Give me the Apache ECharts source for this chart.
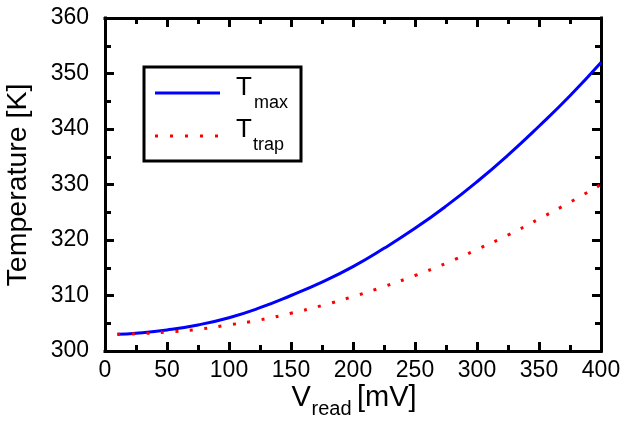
<!DOCTYPE html>
<html>
<head>
<meta charset="utf-8">
<script src="https://cdn.jsdelivr.net/npm/echarts@6/dist/echarts.min.js"></script>
<style>
html,body{margin:0;padding:0;background:#fff;}
#chart{width:624px;height:421px;}
</style>
</head>
<body>
<div id="chart"></div>
<script>
// Data
const vRead = [10, 25, 50, 75, 100, 125, 150, 175, 200, 225, 250, 275, 300, 325, 350, 375, 400];
const tMax  = [303.0, 303.2, 303.8, 304.7, 306.0, 307.8, 310.0, 312.4, 315.2, 318.5, 322.1, 326.1, 330.5, 335.3, 340.5, 346.0, 352.0];
const tTrap = [303.0, 303.1, 303.4, 303.9, 304.7, 305.6, 306.8, 308.2, 309.8, 311.6, 313.6, 315.8, 318.3, 320.9, 323.8, 326.8, 330.0];
const xTicks = [0, 50, 100, 150, 200, 250, 300, 350, 400];
const yTicks = [300, 310, 320, 330, 340, 350, 360];
const seriesNames = ['T_max', 'T_trap'];

const FONT = '"Liberation Sans", Arial, Helvetica, sans-serif';
const chart = echarts.init(document.getElementById('chart'), null, {renderer: 'canvas'});

const pair = (xs, ys) => xs.map((x, i) => [x, ys[i]]);

function axisCommon() {
  return {
    axisLine: {show: true, onZero: false, lineStyle: {color: '#000', width: 3, cap: 'square'}},
    axisTick: {show: true, inside: true, length: 9, lineStyle: {color: '#000', width: 3}},
    minorTick: {show: true, splitNumber: 2, length: 6, lineStyle: {color: '#000', width: 3}},
    splitLine: {show: false},
    minorSplitLine: {show: false}
  };
}

function txt(x, y, text, size, extra) {
  return Object.assign({type: 'text', x: x, y: y, z: 101,
    style: {text: text, fontSize: size, fontFamily: FONT, fill: '#000', align: 'left', verticalAlign: 'middle'}}, extra || {});
}

const option = {
  animation: false,
  backgroundColor: '#fff',
  grid: {left: 105, right: 23, top: 18, bottom: 70, show: false},
  xAxis: [
    Object.assign({
      type: 'value', min: xTicks[0], max: xTicks[xTicks.length - 1], interval: 50, position: 'bottom',
      axisLabel: {color: '#000', fontSize: 23, fontFamily: FONT, margin: 8}
    }, axisCommon()),
    Object.assign({
      type: 'value', min: xTicks[0], max: xTicks[xTicks.length - 1], interval: 50, position: 'top',
      axisLabel: {show: false}
    }, axisCommon())
  ],
  yAxis: [
    Object.assign({
      type: 'value', min: yTicks[0], max: yTicks[yTicks.length - 1], interval: 10, position: 'left',
      axisLabel: {color: '#000', fontSize: 23, fontFamily: FONT, margin: 16}
    }, axisCommon()),
    Object.assign({
      type: 'value', min: yTicks[0], max: yTicks[yTicks.length - 1], interval: 10, position: 'right',
      axisLabel: {show: false}
    }, axisCommon())
  ],
  series: [
    {
      name: seriesNames[0], type: 'line', data: pair(vRead, tMax), smooth: true,
      symbol: 'none', clip: true,
      lineStyle: {color: '#0000ff', width: 3}
    },
    {
      name: seriesNames[1], type: 'line', data: pair(vRead, tTrap), smooth: true,
      symbol: 'none', clip: true,
      lineStyle: {color: '#ff0000', width: 3, type: [3, 11.5], cap: 'butt'}
    }
  ],
  graphic: [
    // legend box
    {type: 'rect', shape: {x: 144, y: 67, width: 157, height: 94},
     style: {fill: '#fff', stroke: '#000', lineWidth: 3}, z: 100},
    {type: 'line', shape: {x1: 155, y1: 93, x2: 220, y2: 93},
     style: {stroke: '#0000ff', lineWidth: 3}, z: 101},
    {type: 'line', shape: {x1: 155, y1: 136, x2: 220, y2: 136},
     style: {stroke: '#ff0000', lineWidth: 3, lineDash: [3, 12], lineCap: 'butt'}, z: 101},
    txt(236, 87.6, 'T', 26),
    txt(254, 103.2, 'max', 18),
    txt(236, 129.9, 'T', 26),
    txt(253, 145.2, 'trap', 18),
    // x axis title
    txt(291.5, 398, 'V', 29),
    txt(311.5, 409, 'read', 20),
    txt(357, 398, '[mV]', 29),
    // y axis title
    txt(18.3, 185, 'Temperature [K]', 28.5, {rotation: Math.PI / 2,
      style: {text: 'Temperature [K]', fontSize: 28.5, fontFamily: FONT, fill: '#000', align: 'center', verticalAlign: 'middle'}})
  ]
};
chart.setOption(option);
</script>
</body>
</html>
